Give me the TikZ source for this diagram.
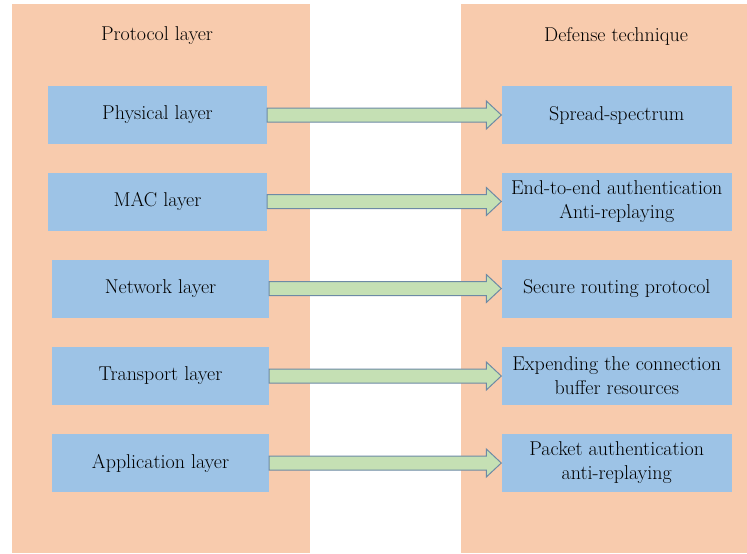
\documentclass[tikz,border=0pt]{standalone}
\usetikzlibrary{calc}
\definecolor{peach}{HTML}{F8CBAD}
\definecolor{boxblue}{HTML}{9DC3E6}
\definecolor{arrowgreen}{HTML}{C5E0B4}
\definecolor{arrowline}{HTML}{6D8AA5}
\tikzset{
  panel/.style={fill=peach},
  title/.style={font=\fontsize{20}{24}\selectfont},
  layerbox/.style={fill=boxblue, minimum height=58pt, inner sep=0pt, align=center, font=\fontsize{20}{24}\selectfont},
  leftbox/.style={layerbox, minimum width=219pt},
  rightbox/.style={layerbox, minimum width=230.5pt},
  bigarrow/.style={fill=arrowgreen, draw=arrowline, line width=1pt, line join=miter}
}
\newcommand{\blockarrow}[2]{%
  \draw[bigarrow] let \p1=(#1.east), \p2=(#2.west) in
    (\x1,\y1+7pt) -- (\x2-15pt,\y1+7pt) -- (\x2-15pt,\y1+14pt) -- (\x2,\y1)
    -- (\x2-15pt,\y1-14pt) -- (\x2-15pt,\y1-7pt) -- (\x1,\y1-7pt) -- cycle;
}
\begin{document}
\begin{tikzpicture}[x=1pt,y=-1pt]
\useasboundingbox[fill=white] (0,0) rectangle (747,554);

% two columns
\fill[panel] (12,4) rectangle (310,553);
\fill[panel] (461,4) rectangle (747,553);
\node[title] (ptitle) at (157,36) {Protocol layer};
\node[title] (dtitle) at (616,36) {Defense technique};

% protocol layers
\node[leftbox] (phy) at (157.5,115) {Physical layer};
\node[leftbox] (mac) at (157.5,201.5) {MAC layer};
\node[leftbox, minimum width=217pt] (net) at (160.5,288.5) {Network layer};
\node[leftbox, minimum width=217pt] (tra) at (160.5,376) {Transport layer};
\node[leftbox, minimum width=217pt] (app) at (160.5,463) {Application layer};

% defense techniques
\node[rightbox] (spread) at (616.75,115) {Spread-spectrum};
\node[rightbox] (auth) at (616.75,201.5) {End-to-end authentication\\Anti-replaying};
\node[rightbox] (route) at (616.75,288.5) {Secure routing protocol};
\node[rightbox] (buffer) at (616.75,376) {Expending the connection\\buffer resources};
\node[rightbox] (packet) at (616.75,463) {Packet authentication\\anti-replaying};

\foreach \a/\b in {phy/spread, mac/auth, net/route, tra/buffer, app/packet}
{
    \blockarrow{\a}{\b}
}

\end{tikzpicture}
\end{document}
